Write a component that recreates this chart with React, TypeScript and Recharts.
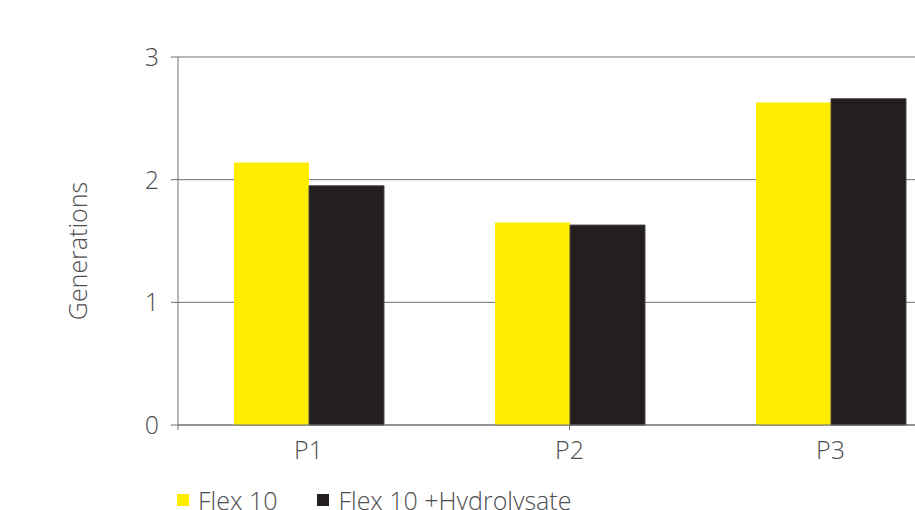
import { Bar, BarChart, CartesianGrid, XAxis, YAxis } from "recharts";

const categories = ["P1", "P2", "P3"];
const flex10 = [2.14, 1.65, 2.63];
const flex10Hydro = [1.95, 1.63, 2.66];
const yTicks = [0, 1, 2, 3];
const boundaryTicks = [0, 1, 2, 3];

const data = categories.map((name, i) => ({
  name,
  flex: flex10[i],
  hydro: flex10Hydro[i],
}));

const FONT = "'Open Sans', sans-serif";
const TEXT = "#4d4d4f";
const LINE = "#6d6e71";
const YELLOW = "#ffed00";
const BLACK = "#231f20";

function YLabel() {
  return (
    <text
      x={77}
      y={251}
      transform="rotate(-90, 77, 251)"
      textAnchor="middle"
      dominantBaseline="central"
      fontFamily={FONT}
      fontWeight={300}
      fontSize={25}
      fill={TEXT}
    >
      Generations
    </text>
  );
}

export default function App() {
  return (
    <div
      style={{
        position: "fixed",
        left: 0,
        top: 0,
        width: 915,
        height: 510,
        overflow: "hidden",
        background: "#fff",
      }}
    >
      <BarChart
        width={1000}
        height={510}
        data={data}
        margin={{ top: 57, right: 39, bottom: 25, left: 0 }}
        barCategoryGap={56}
        barGap={0}
      >
        <CartesianGrid vertical={false} stroke={LINE} strokeWidth={1} />
        {/* boundary ticks between categories */}
        <XAxis
          xAxisId={0}
          type="number"
          domain={[0, 3]}
          ticks={boundaryTicks}
          height={1}
          stroke={LINE}
          tickSize={5}
          tickFormatter={() => ""}
        />
        <XAxis
          xAxisId="cat"
          dataKey="name"
          height={59}
          axisLine={false}
          tickLine={false}
          tickSize={0}
          tickMargin={15}
          tick={{ fontSize: 25, fill: TEXT, fontFamily: FONT, fontWeight: 300 }}
        />
        <YAxis
          width={178}
          domain={[0, 3]}
          ticks={yTicks}
          stroke={LINE}
          tickSize={7}
          tickMargin={12}
          tick={{ fontSize: 25, fill: TEXT, fontFamily: FONT, fontWeight: 300 }}
          label={<YLabel />}
        />
        <Bar xAxisId="cat" dataKey="flex" name="Flex 10" fill={YELLOW} isAnimationActive={false} />
        <Bar
          xAxisId="cat"
          dataKey="hydro"
          name="Flex 10 +Hydrolysate"
          fill={BLACK}
          stroke="#4a4748"
          strokeWidth={1}
          isAnimationActive={false}
        />
      </BarChart>
      <div
        style={{
          position: "absolute",
          left: 177,
          top: 483,
          display: "flex",
          alignItems: "center",
          fontFamily: FONT,
          fontWeight: 300,
          fontSize: 25,
          color: TEXT,
          whiteSpace: "nowrap",
        }}
      >
        <span style={{ width: 12, height: 12, background: YELLOW, marginRight: 9 }} />
        <span style={{ marginRight: 40 }}>Flex 10</span>
        <span style={{ width: 12, height: 12, background: BLACK, marginRight: 9 }} />
        <span>Flex 10 +Hydrolysate</span>
      </div>
    </div>
  );
}
